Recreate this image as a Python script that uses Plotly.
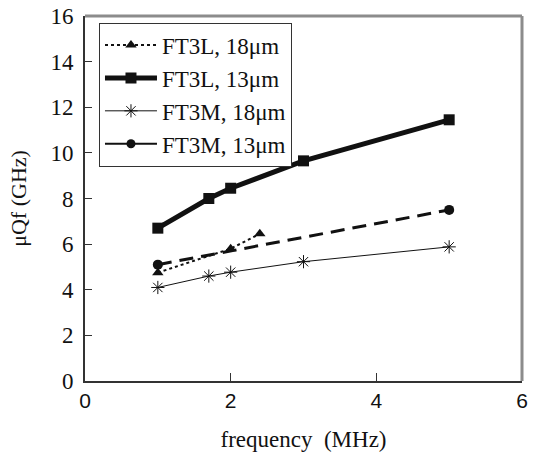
import plotly.graph_objects as go

# Measured figure of merit vs. drive frequency
freq_ft3l_18 = [1.0, 2.0, 2.4]
uqf_ft3l_18 = [4.75, 5.8, 6.45]

freq_ft3l_13 = [1.0, 1.7, 2.0, 3.0, 5.0]
uqf_ft3l_13 = [6.7, 8.0, 8.45, 9.65, 11.45]

freq_ft3m_18 = [1.0, 1.7, 2.0, 3.0, 5.0]
uqf_ft3m_18 = [4.1, 4.6, 4.77, 5.23, 5.88]

freq_ft3m_13 = [1.0, 5.0]
uqf_ft3m_13 = [5.1, 7.5]

x_ticks = [0, 2, 4, 6]
y_ticks = [0, 2, 4, 6, 8, 10, 12, 14, 16]

SERIF = "Times New Roman"
SANS = "Arial"
INK = "#111111"

fig = go.Figure()

fig.add_trace(go.Scatter(
    x=freq_ft3l_18, y=uqf_ft3l_18, mode="lines+markers", name="FT3L, 18μm",
    line=dict(color=INK, width=2, dash="3px,3px"),
    marker=dict(symbol="triangle-up", size=10, color=INK),
))
fig.add_trace(go.Scatter(
    x=freq_ft3l_13, y=uqf_ft3l_13, mode="lines+markers", name="FT3L, 13μm",
    line=dict(color=INK, width=5),
    marker=dict(symbol="square", size=11, color=INK),
))
fig.add_trace(go.Scatter(
    x=freq_ft3m_18, y=uqf_ft3m_18, mode="lines+markers", name="FT3M, 18μm",
    line=dict(color=INK, width=1),
    marker=dict(symbol="asterisk-open", size=11, color=INK,
                line=dict(color=INK, width=1)),
))
# FT3M 13μm: dashed curve on the plot, solid sample in the legend
fig.add_trace(go.Scatter(
    x=freq_ft3m_13, y=uqf_ft3m_13, mode="lines+markers", name="FT3M, 13μm",
    line=dict(color=INK, width=3, dash="14px,8px"),
    marker=dict(symbol="circle", size=10, color=INK),
    showlegend=False,
))
fig.add_trace(go.Scatter(
    x=[None], y=[None], mode="lines+markers", name="FT3M, 13μm",
    line=dict(color=INK, width=2),
    marker=dict(symbol="circle", size=9, color=INK),
))

fig.update_layout(
    width=534, height=458,
    margin=dict(l=85, r=12, t=16, b=77, autoexpand=False),
    paper_bgcolor="white", plot_bgcolor="white",
    showlegend=True,
    legend=dict(
        x=0.032, y=0.982, xanchor="left", yanchor="top",
        bgcolor="white", bordercolor="#333333", borderwidth=1,
        font=dict(family=SERIF, size=23, color=INK),
        tracegroupgap=0, itemwidth=52,
    ),
    xaxis=dict(
        range=[0, 6], tickvals=x_ticks, ticktext=[str(v) for v in x_ticks],
        showgrid=False, zeroline=False, automargin=False,
        showline=True, linecolor="#333333", linewidth=2,
        ticks="inside", ticklen=8, tickcolor="#333333", tickwidth=1,
        tickfont=dict(family=SANS, size=21, color=INK),
        title=dict(text="frequency  (MHz)", font=dict(family=SERIF, size=23, color=INK),
                   standoff=20),
    ),
    yaxis=dict(
        range=[0, 16], tickvals=y_ticks, ticktext=[str(v) for v in y_ticks],
        showgrid=False, zeroline=False, automargin=False,
        showline=True, linecolor="#333333", linewidth=2,
        ticks="inside", ticklen=7, tickcolor="#333333", tickwidth=1,
        ticklabelstandoff=5,
        tickfont=dict(family=SERIF, size=23, color=INK),
        title=dict(text="μQf (GHz)", font=dict(family=SERIF, size=22, color=INK),
                   standoff=18),
    ),
    shapes=[
        dict(type="line", xref="paper", yref="paper", x0=0, x1=1, y0=1, y1=1,
             line=dict(color="#8c8c8c", width=3)),
        dict(type="line", xref="paper", yref="paper", x0=1, x1=1, y0=0, y1=1,
             line=dict(color="#8c8c8c", width=3)),
    ],
)

fig.write_html("out.html")
